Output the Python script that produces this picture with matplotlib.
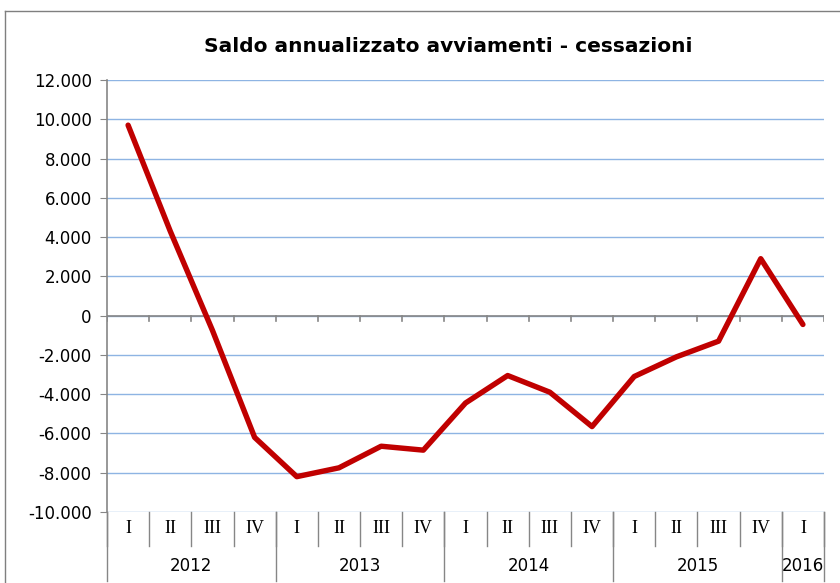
import matplotlib.pyplot as plt
from matplotlib.ticker import FuncFormatter

quarters = ['I', 'II', 'III', 'IV'] * 4 + ['I']
years = ['2012', '2013', '2014', '2015', '2016']
year_sizes = [4, 4, 4, 4, 1]
saldo = [9700, 4300, -750, -6200, -8200, -7750, -6650, -6850,
         -4450, -3050, -3900, -5650, -3100, -2100, -1300, 2900, -450]

grid_col = '#8EB4E3'
axis_col = '#868686'

fig = plt.figure(figsize=(8.4, 5.83), dpi=100)
ax = fig.add_axes([107 / 840, 71 / 583, 717 / 840, 432 / 583])

x = list(range(len(saldo)))
ax.plot(x, saldo, color='#C00000', linewidth=3.9, solid_capstyle='round',
        solid_joinstyle='round', zorder=5)

ax.set_xlim(-0.5, len(saldo) - 0.5)
ax.set_ylim(-10000, 12000)
ax.set_yticks(range(-10000, 12001, 2000))
ax.yaxis.set_major_formatter(FuncFormatter(lambda v, p: f'{int(v):,}'.replace(',', '.')))
ax.tick_params(axis='y', labelsize=12, length=5, color=axis_col, direction='out', pad=6)
ax.set_xticks([])
ax.grid(axis='y', color=grid_col, linewidth=1)
ax.set_axisbelow(True)

for s in ['top', 'right', 'bottom']:
    ax.spines[s].set_visible(False)
ax.spines['left'].set_color(axis_col)
ax.spines['left'].set_linewidth(1.2)

# zero axis with category ticks
ax.axhline(0, color=axis_col, linewidth=1.2, zorder=3)
for b in range(len(saldo) + 1):
    ax.plot([b - 0.5, b - 0.5], [0, -280], color=axis_col, linewidth=1.2, zorder=3)

# category labels below plot
tr = ax.get_xaxis_transform()
for i, q in enumerate(quarters):
    ax.text(i, -0.039, q, transform=tr, ha='center', va='center',
            fontsize=13, family='Liberation Serif')
for b in range(len(saldo) + 1):
    ax.plot([b - 0.5, b - 0.5], [0, -0.078], transform=tr, color=axis_col,
            linewidth=1, clip_on=False)

start = 0
for y, n in zip(years, year_sizes):
    ax.text(start + n / 2 - 0.5, -0.125, y, transform=tr, ha='center', va='center',
            fontsize=12)
    ax.plot([start - 0.5, start - 0.5], [0, -0.16], transform=tr, color=axis_col,
            linewidth=1, clip_on=False)
    start += n
ax.plot([start - 0.5, start - 0.5], [0, -0.16], transform=tr, color=axis_col,
        linewidth=1, clip_on=False)

fig.text(448 / 840, 1 - 46 / 583, 'Saldo annualizzato avviamenti - cessazioni',
         ha='center', va='center', fontsize=14.5, fontweight='bold')

# outer chart frame
fig.add_artist(plt.Line2D([5 / 840, 5 / 840], [0, 1 - 11 / 583], color='#7F7F7F', linewidth=1))
fig.add_artist(plt.Line2D([5 / 840, 1], [1 - 11 / 583, 1 - 11 / 583], color='#7F7F7F', linewidth=1))

fig.savefig('out.png', dpi=100)
